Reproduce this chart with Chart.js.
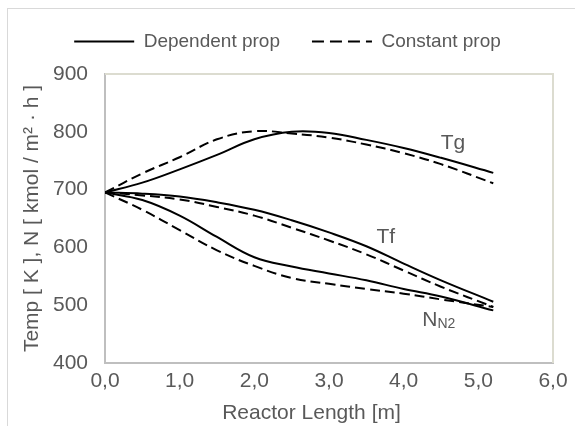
<!DOCTYPE html>
<html>
<head>
<meta charset="utf-8">
<script src="https://cdn.jsdelivr.net/npm/chart.js@4.4.1/dist/chart.umd.min.js"></script>
<style>
  html, body { margin: 0; padding: 0; background: #fff; overflow: hidden; }
  #frame { position: absolute; left: 7px; top: 8px; width: 600px; height: 450px; border: 1px solid #d9d9d9; }
  #chart { position: absolute; left: 0; top: 0; }
</style>
</head>
<body>
<div id="frame"></div>
<canvas id="chart" width="575" height="426"></canvas>
<script>
const lengths = [0, 0.5, 1.0, 1.5, 2.0, 2.5, 3.0, 3.5, 4.0, 4.5, 5.2];

const tgDependent = [695, 712, 735, 760, 787, 800, 798, 786, 772, 755, 729];
const tgConstant  = [695, 728, 756, 787, 801, 797, 790, 778, 763, 744, 711];
const tfDependent = [695, 693, 688, 678, 665, 647, 626, 602, 572, 543, 506];
const tfConstant  = [695, 690, 683, 670, 655, 634, 612, 588, 560, 532, 497];
const nDependent  = [695, 682, 655, 618, 583, 567, 555, 543, 528, 515, 491];
const nConstant   = [695, 665, 630, 595, 568, 547, 537, 528, 520, 510, 497];

const legendNames = ['Dependent prop', 'Constant prop'];

// curve names written on the plot
const curveLabels = ['Tg', 'Tf', 'N'];
const curveSubs   = ['', '', 'N2'];
const curveLabelX = [4.66, 3.76, 4.47];
const curveLabelY = [780, 618, 474];

const xMin = 0, xMax = 6, xStep = 1;
const yMin = 400, yMax = 900, yStep = 100;

const textColor = '#595959';
const family = '"Liberation Sans", Arial, sans-serif';
Chart.defaults.font.family = family;
Chart.defaults.font.size = 21;
Chart.defaults.color = textColor;

function pts(values) {
  return lengths.map((x, i) => ({ x: x, y: values[i] }));
}

function curve(values, dashed) {
  return {
    data: pts(values),
    borderColor: '#000',
    borderWidth: 2,
    borderDash: dashed ? [10, 5] : [],
    pointRadius: 0,
    fill: false,
    tension: 0.4
  };
}

// empty axis used only to reserve space on one side
function spacer(position, size) {
  return {
    type: 'linear',
    position: position,
    min: 0,
    max: 1,
    grid: { display: false, drawTicks: false },
    border: { display: false },
    ticks: { display: false },
    afterFit: s => {
      if (position === 'top') s.height = size; else s.width = size;
    }
  };
}

const plotFrame = {
  id: 'plotFrame',
  beforeDatasetsDraw(chart) {
    const a = chart.chartArea;
    const ctx = chart.ctx;
    ctx.save();
    ctx.strokeStyle = '#dcdcd0';
    ctx.lineWidth = 2;
    ctx.beginPath();
    ctx.moveTo(a.left, a.top);
    ctx.lineTo(a.right, a.top);
    ctx.lineTo(a.right, a.bottom);
    ctx.stroke();
    ctx.restore();
  }
};

const curveNames = {
  id: 'curveNames',
  afterDatasetsDraw(chart) {
    const ctx = chart.ctx;
    const xs = chart.scales.x, ys = chart.scales.y;
    ctx.save();
    ctx.fillStyle = textColor;
    ctx.textBaseline = 'middle';
    ctx.textAlign = 'left';
    curveLabels.forEach((txt, i) => {
      const px = xs.getPixelForValue(curveLabelX[i]);
      const py = ys.getPixelForValue(curveLabelY[i]);
      ctx.font = '21px ' + family;
      const w1 = ctx.measureText(txt).width;
      ctx.font = '14px ' + family;
      const w2 = curveSubs[i] ? ctx.measureText(curveSubs[i]).width : 0;
      const start = px - (w1 + w2) / 2;
      ctx.font = '21px ' + family;
      ctx.fillText(txt, start, py);
      if (curveSubs[i]) {
        ctx.font = '14px ' + family;
        ctx.fillText(curveSubs[i], start + w1, py + 4);
      }
    });
    ctx.restore();
  }
};

new Chart(document.getElementById('chart'), {
  type: 'line',
  data: {
    datasets: [
      curve(tgDependent, false),
      curve(tgConstant, true),
      curve(tfDependent, false),
      curve(tfConstant, true),
      curve(nDependent, false),
      curve(nConstant, true)
    ]
  },
  options: {
    responsive: false,
    animation: false,
    devicePixelRatio: 1,
    layout: { padding: 0 },
    plugins: {
      tooltip: { enabled: false },
      legend: {
        position: 'top',
        labels: {
          color: textColor,
          font: { size: 19 },
          usePointStyle: true,
          pointStyleWidth: 60,
          padding: 32,
          generateLabels: () => legendNames.map((name, i) => ({
            text: name,
            fontColor: textColor,
            strokeStyle: '#000',
            fillStyle: '#000',
            lineWidth: 2,
            lineDash: i === 0 ? [] : [12, 6],
            pointStyle: 'line',
            hidden: false,
            datasetIndex: i
          }))
        }
      }
    },
    scales: {
      x: {
        type: 'linear',
        min: xMin,
        max: xMax,
        grid: { display: false, drawTicks: false },
        border: { display: true, color: '#bfbfbf', width: 2 },
        ticks: {
          stepSize: xStep,
          padding: 6,
          color: textColor,
          callback: v => v.toFixed(1).replace('.', ',')
        },
        title: {
          display: true,
          text: 'Reactor Length [m]\u00a0\u00a0\u00a0\u00a0\u00a0\u00a0',
          color: textColor,
          padding: { top: 0, bottom: 0 }
        },
        afterFit: s => { s.height = 63; }
      },
      y: {
        min: yMin,
        max: yMax,
        grid: { display: false, drawTicks: false },
        border: { display: true, color: '#bfbfbf', width: 2 },
        ticks: { stepSize: yStep, padding: 17, color: textColor },
        title: {
          display: true,
          text: 'Temp [ K ], N [ kmol / m² · h ]',
          color: textColor,
          padding: { top: 20, bottom: 0 }
        },
        afterFit: s => { s.width = 105; }
      },
      xTop: spacer('top', 13),
      yRight: spacer('right', 22)
    }
  },
  plugins: [plotFrame, curveNames]
});
</script>
</body>
</html>
